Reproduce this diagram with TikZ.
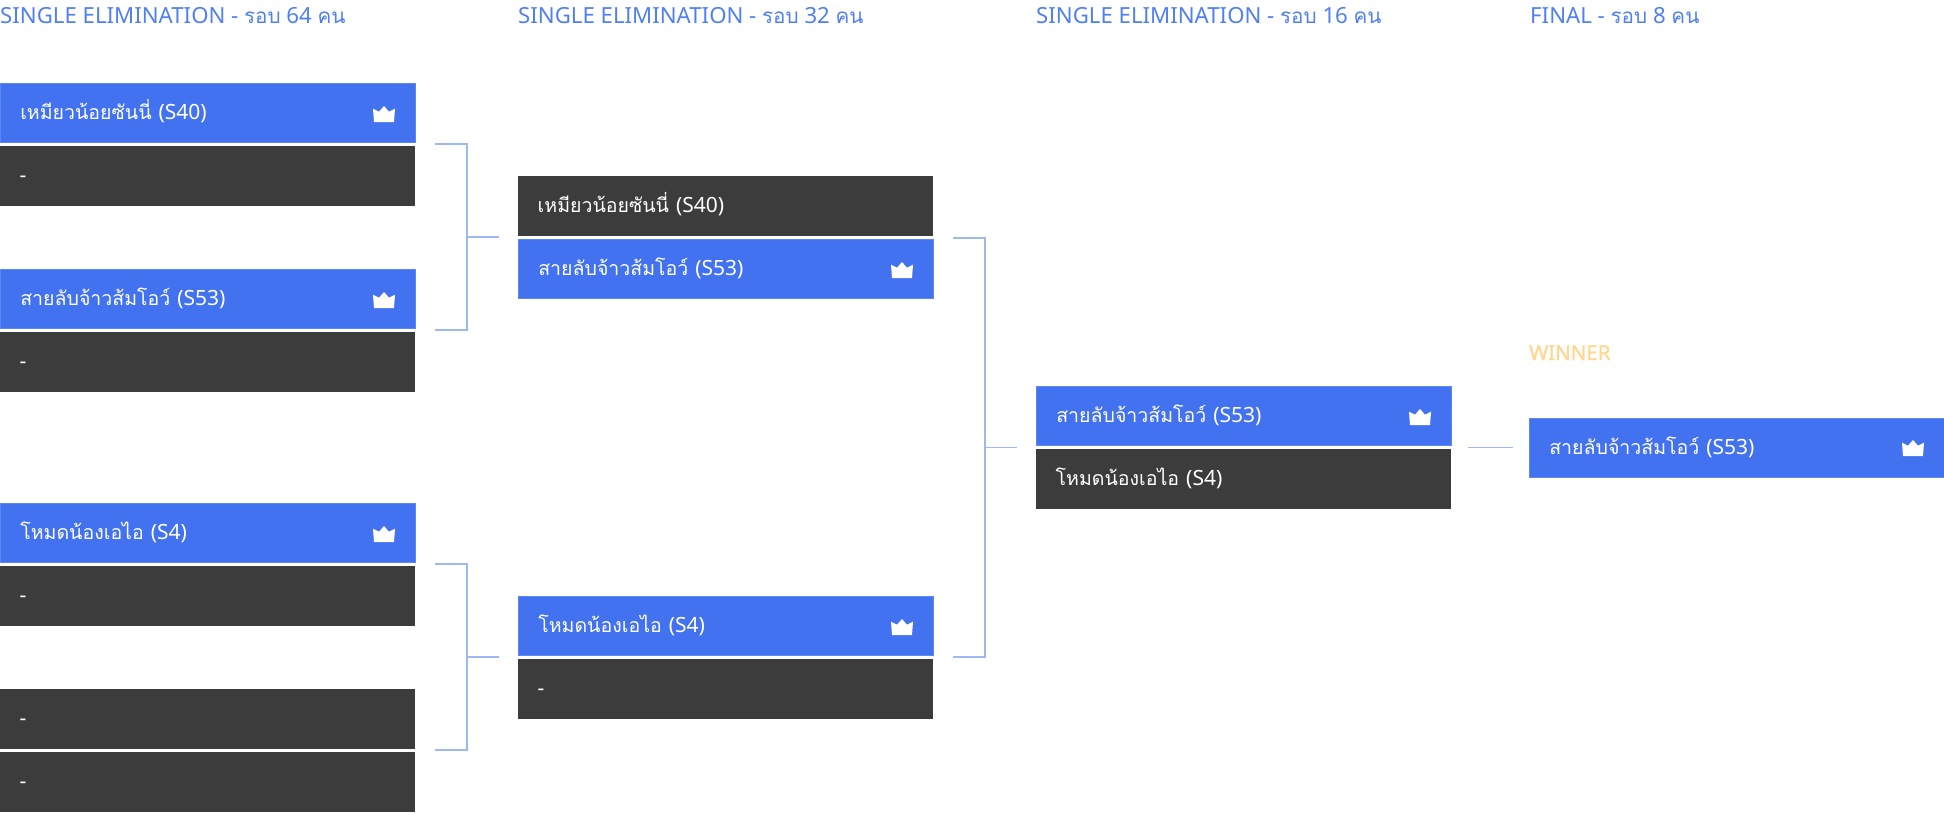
\documentclass[tikz,border=0pt]{standalone}
\usepackage{fontspec}
\setmainfont{Noto Sans}
\newfontfamily\thaifont[Script=Thai,Scale=0.93]{Loma}
\newfontfamily\winfont[FakeBold=1.2]{Noto Sans}
\definecolor{winblue}{HTML}{4272F0}
\definecolor{winedge}{HTML}{5C86F2}
\definecolor{losegray}{HTML}{3C3C3C}
\definecolor{headblue}{HTML}{4F7FF0}
\definecolor{linkblue}{HTML}{9DB8F2}
\definecolor{wingold}{HTML}{FFD78F}
\newcommand{\TT}[1]{{\thaifont #1}}
\newcommand{\nameA}{\TT{เหมียวน้อยซันนี่} (S40)}
\newcommand{\nameB}{\TT{สายลับจ้าวส้มโอว์} (S53)}
\newcommand{\nameC}{\TT{โหมดน้องเอไอ} (S4)}
\tikzset{
  slotbox/.style={anchor=north west,minimum width=415pt,minimum height=60pt,inner ysep=0pt,inner xsep=19.5pt,
    text width=376pt,align=left,text=white,text height=13.5pt,text depth=0pt,font=\fontsize{21}{25}\selectfont},
  winbox/.style={slotbox,fill=winblue,draw=winedge,line width=.8pt,minimum height=59.2pt,text width=375.2pt},
  losebox/.style={slotbox,fill=losegray},
  heading/.style={anchor=base west,inner sep=0pt,text=headblue,font=\fontsize{22.2}{27}\selectfont},
  link/.style={draw=linkblue,line width=1.8pt},
  crown/.pic={\fill[white] (-11,-4.3) -- (-5,-1.3) -- (0,-7) -- (5,-1.3) -- (11,-4.3) -- (10,9) -- (-10,9) -- cycle;}
}
\begin{document}
\begin{tikzpicture}[x=1pt,y=-1pt]
\useasboundingbox (0,0) rectangle (1944,812);
\node[heading] (h1) at (0,23) {SINGLE ELIMINATION - \TT{รอบ} 64 \TT{คน}};
\node[heading] (h2) at (518,23) {SINGLE ELIMINATION - \TT{รอบ} 32 \TT{คน}};
\node[heading] (h3) at (1036,23) {SINGLE ELIMINATION - \TT{รอบ} 16 \TT{คน}};
\node[heading] (h4) at (1530,23) {FINAL - \TT{รอบ} 8 \TT{คน}};
\node[winbox] (a1) at (0,83) {\nameA};
\node[losebox] (a2) at (0,146) {-};
\node[winbox] (a3) at (0,269) {\nameB};
\node[losebox] (a4) at (0,332) {-};
\node[winbox] (a5) at (0,503) {\nameC};
\node[losebox] (a6) at (0,566) {-};
\node[losebox] (a7) at (0,689) {-};
\node[losebox] (a8) at (0,752) {-};
\node[losebox] (b1) at (518,176) {\nameA};
\node[winbox] (b2) at (518,239) {\nameB};
\node[winbox] (b3) at (518,596) {\nameC};
\node[losebox] (b4) at (518,659) {-};
\node[winbox] (c1) at (1036,386) {\nameB};
\node[losebox] (c2) at (1036,449) {\nameC};
\node[winbox] (d1) at (1529,418) {\nameB};
\node[anchor=base west,inner sep=0pt,text=wingold,font=\fontsize{20.5}{24}\winfont] (w) at (1529,360) {WINNER};
\foreach \n/\x/\y in {a1/384/113,a3/384/299,a5/384/533,b2/902/269,b3/902/626,c1/1420/416,d1/1913/447}{
  \pic at (\x,\y) {crown};
}
\coordinate (p1) at (435,144); \coordinate (q1) at (435,330); \coordinate (m1) at (467,237); \coordinate (e1) at (499,237);
\coordinate (p2) at (435,564); \coordinate (q2) at (435,750); \coordinate (m2) at (467,657); \coordinate (e2) at (499,657);
\coordinate (p3) at (953,238); \coordinate (q3) at (953,657); \coordinate (m3) at (985,447.5); \coordinate (e3) at (1017,447.5);
\coordinate (p4) at (1468,447.5); \coordinate (e4) at (1513,447.5);
\foreach \i in {1,2,3}{
  \draw[link] (p\i) -| (m\i) |- (q\i);
  \draw[link] (m\i) -- (e\i);
}
\draw[link] (p4) -- (e4);
\end{tikzpicture}
\end{document}
